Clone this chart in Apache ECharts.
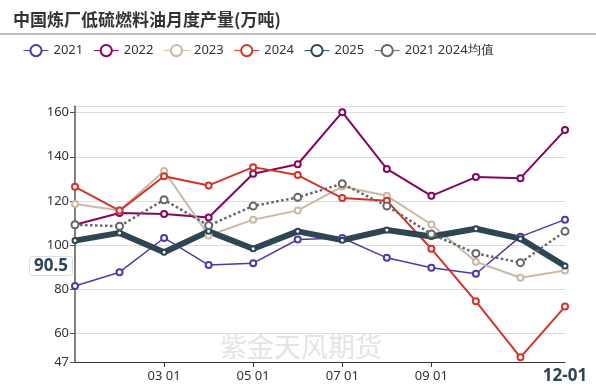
<!DOCTYPE html>
<html>
<head>
<meta charset="utf-8">
<script src="https://cdn.jsdelivr.net/npm/echarts@6/dist/echarts.min.js"></script>
<style>html,body{margin:0;padding:0;background:#fff}#c{width:596px;height:388px}</style>
</head>
<body>
<div id="c"></div>
<script>
var months = ['01 01','02 01','03 01','04 01','05 01','06 01','07 01','08 01','09 01','10 01','11 01','12 01'];
var s2021 = [81.4, 87.7, 103.2, 90.9, 91.8, 102.5, 103.2, 94.2, 89.7, 87.0, 103.8, 111.5];
var s2022 = [109.2, 114.5, 114.1, 112.5, 132.3, 136.6, 160.2, 134.5, 122.3, 130.8, 130.3, 152.1];
var s2023 = [118.6, 115.7, 133.6, 104.3, 111.5, 115.7, 126.5, 122.3, 109.3, 92.4, 85.2, 88.5];
var s2024 = [126.4, 115.6, 131.2, 127.0, 135.3, 131.7, 121.3, 120.1, 98.3, 74.5, 49.1, 72.1];
var s2025 = [102.0, 105.5, 96.7, 106.2, 98.3, 106.2, 102.2, 106.8, 103.9, 107.4, 102.9, 90.5];
var sAvg  = [109.2, 108.5, 120.5, 108.8, 117.7, 121.6, 127.8, 117.7, 105.0, 96.2, 92.0, 106.2];
var names = ['2021','2022','2023','2024','2025','2021 2024均值'];
var yMin = 47, yMax = 163;
var pointerX = '12 01', pointerXLabel = '12-01', pointerY = 90.5;

var chart = echarts.init(document.getElementById('c'), null, {renderer:'canvas'});
var font = 'Noto Sans';
function line(name, data, color, width, extra) {
  var o = {
    name: name, type: 'line', data: data,
    symbol: 'emptyCircle', symbolSize: 6,
    lineStyle: {color: color, width: width},
    itemStyle: {color: color, borderWidth: 1.2},
    animation: false
  };
  for (var k in extra) o[k] = extra[k];
  return o;
}
chart.setOption({
  backgroundColor: '#fff',
  animation: false,
  textStyle: {fontFamily: font},
  title: {
    text: '中国炼厂低硫燃料油月度产量(万吨)', left: 8, top: 6,
    textStyle: {fontSize: 17, fontWeight: 'bold', color: '#333', fontFamily: 'Noto Sans CJK SC'}
  },
  graphic: [
    {type: 'line', shape: {x1: 0, y1: 34, x2: 596, y2: 34}, style: {stroke: '#aaa', lineWidth: 1.5}, silent: true},
    {type: 'text', left: 220, top: 333, z: 0, style: {text: '紫金天风期货', fontSize: 27, fill: '#e4e4e4', fontFamily: 'Noto Sans CJK SC'}, silent: true}
  ],
  legend: {
    left: 18, top: 39, itemWidth: 25, itemHeight: 14, itemGap: 10,
    textStyle: {fontSize: 13, color: '#333', fontFamily: font},
    itemStyle: {borderWidth: 1},
    lineStyle: {width: 1, type: 'solid'},
    data: names
  },
  grid: {left: 75, right: 31, top: 106, bottom: 26, containLabel: false},
  xAxis: {
    type: 'category', data: months, boundaryGap: false,
    axisLine: {lineStyle: {color: '#333', width: 1}},
    axisTick: {show: true, length: 5, interval: function(i){ return i===2||i===4||i===6||i===8; }, lineStyle: {color: '#333'}},
    axisLabel: {fontSize: 13, color: '#333', margin: 8, interval: function(i){ return i===2||i===4||i===6||i===8; }},
    splitLine: {show: false},
    axisPointer: {
      show: true, type: 'line', status: 'show', value: pointerX,
      lineStyle: {opacity: 0},
      label: {show: true, formatter: function(){ return pointerXLabel; }, backgroundColor: 'transparent',
        color: '#2E4553', fontWeight: 'bold', fontSize: 17, padding: 0, margin: 6, shadowBlur: 0}
    }
  },
  yAxis: {
    type: 'value', min: yMin, max: yMax,
    axisLine: {show: true, lineStyle: {color: '#555', width: 1.5}},
    axisTick: {show: true, length: 5, lineStyle: {color: '#555'}},
    axisLabel: {fontSize: 13, color: '#333', margin: 6},
    splitLine: {lineStyle: {color: '#dcdcdc', width: 1.2}},
    axisPointer: {
      show: true, type: 'line', status: 'show', value: pointerY,
      lineStyle: {opacity: 0},
      label: {show: true, formatter: function(p){ return String(pointerY); }, backgroundColor: '#fff',
        borderColor: '#ddd', borderWidth: 1, color: '#2E4553', fontWeight: 'bold', fontSize: 17,
        padding: [1, 4, 0, 4], margin: 3, shadowBlur: 0}
    }
  },
  series: [
    line(names[0], s2021, '#4B3BA5', 1.5, {}),
    line(names[1], s2022, '#85065C', 2, {}),
    line(names[2], s2023, '#C9B9A6', 2, {}),
    line(names[3], s2024, '#D1342C', 2, {}),
    line(names[4], s2025, '#2E4553', 6, {symbolSize: 5}),
    line(names[5], sAvg, '#666666', 2.5, {lineStyle: {color: '#666', width: 2.5, type: 'dotted'}, symbolSize: 7})
  ]
});
</script>
</body>
</html>
